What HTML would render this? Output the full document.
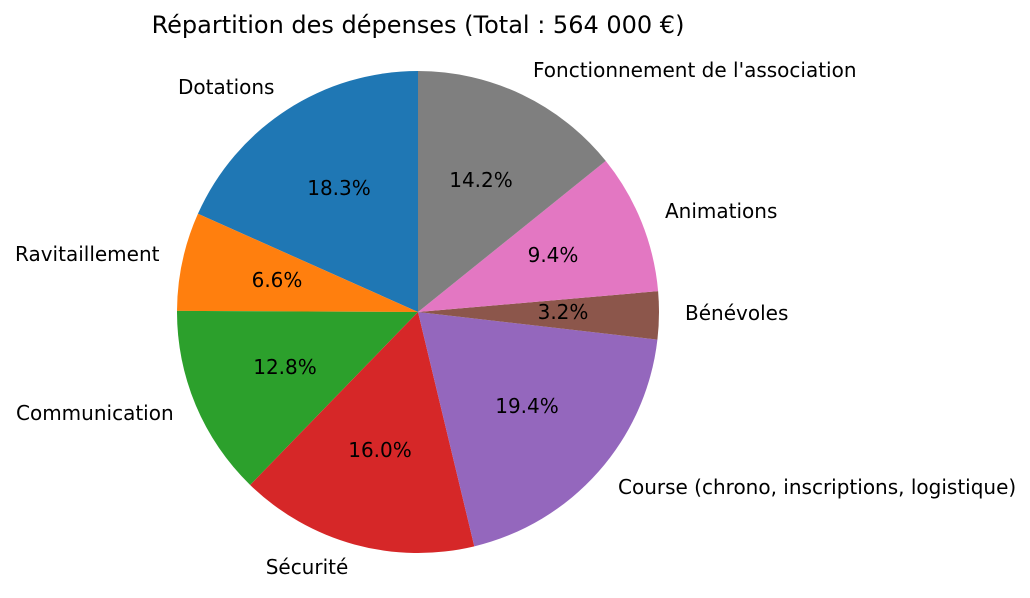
<!DOCTYPE html>
<html><head><meta charset="utf-8"><style>
html,body{margin:0;padding:0;background:#fff;}
svg text{font-family:"DejaVu Sans","Liberation Sans",sans-serif;fill:#000;}
</style></head><body>
<svg id="s" width="1030" height="593" viewBox="0 0 1030 593" xmlns="http://www.w3.org/2000/svg">
<g id="w"></g>
<text x="418" y="33" font-size="24" text-anchor="middle">Répartition des dépenses (Total : 564 000 €)</text>
<g font-size="20">
<text x="178" y="94">Dotations</text>
<text x="15" y="261">Ravitaillement</text>
<text x="16" y="420">Communication</text>
<text x="307" y="574" text-anchor="middle">Sécurité</text>
<text x="618" y="494">Course (chrono, inscriptions, logistique)</text>
<text x="685" y="320">Bénévoles</text>
<text x="665" y="218">Animations</text>
<text x="533" y="77">Fonctionnement de l'association</text>
</g>
<g font-size="20" text-anchor="middle">
<text x="339" y="195">18.3%</text>
<text x="277" y="287">6.6%</text>
<text x="285" y="374">12.8%</text>
<text x="380" y="457">16.0%</text>
<text x="527" y="413">19.4%</text>
<text x="563" y="319">3.2%</text>
<text x="553" y="262">9.4%</text>
<text x="481" y="187">14.2%</text>
</g>
</svg>
<script>
var v=[18.3,6.6,12.8,16.0,19.4,3.2,9.4,14.2];
var c=["#1f77b4","#ff7f0e","#2ca02c","#d62728","#9467bd","#8c564b","#e377c2","#7f7f7f"];
var t=v.reduce(function(a,b){return a+b},0),cx=418,cy=312,r=241,a=90,g=document.getElementById("w"),h="";
for(var i=0;i<v.length;i++){var b=a+v[i]/t*360;
var x1=cx+r*Math.cos(a*Math.PI/180),y1=cy-r*Math.sin(a*Math.PI/180),x2=cx+r*Math.cos(b*Math.PI/180),y2=cy-r*Math.sin(b*Math.PI/180);
h+='<path d="M'+cx+','+cy+'L'+x1+','+y1+'A'+r+','+r+' 0 '+((b-a)>180?1:0)+' 0 '+x2+','+y2+'Z" fill="'+c[i]+'"/>';a=b;}
g.innerHTML=h;
</script>
</body></html>
